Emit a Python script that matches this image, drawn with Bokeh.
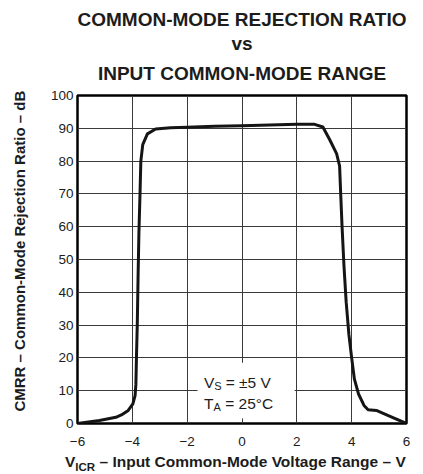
from bokeh.plotting import figure
from bokeh.models import Label, BoxAnnotation, FixedTicker, Range1d, Title, Div
from bokeh.layouts import column
from bokeh.embed import file_html
from bokeh.resources import INLINE

# ---- data ----
vicr = [-6.0, -5.2, -4.6, -4.4, -4.15, -3.98, -3.9, -3.87, -3.85, -3.82, -3.79,
        -3.76, -3.72, -3.69, -3.62, -3.45, -3.15, -2.6, -2.0, -1.0, 0.0, 1.0,
        2.0, 2.65, 2.95, 3.2, 3.45, 3.56, 3.6, 3.65, 3.72, 3.8, 3.9, 4.0, 4.1,
        4.25, 4.45, 4.6, 4.9, 5.4, 6.0]
cmrr = [0.0, 0.9, 1.9, 2.6, 4.0, 6.0, 8.5, 12.0, 20.0, 30.0, 45.0,
        58.0, 70.0, 80.0, 85.0, 88.3, 89.8, 90.2, 90.3, 90.6, 90.8, 91.0,
        91.2, 91.2, 90.4, 86.5, 82.3, 78.5, 70.0, 60.0, 48.0, 37.0, 27.0, 20.0, 13.5,
        9.0, 5.5, 4.2, 4.0, 2.2, 0.0]

x_ticks = [-6, -4, -2, 0, 2, 4, 6]
x_tick_labels = ["\u22126", "\u22124", "\u22122", "0", "2", "4", "6"]
y_ticks = [0, 10, 20, 30, 40, 50, 60, 70, 80, 90, 100]

title_lines = ["COMMON-MODE REJECTION RATIO", "vs", "INPUT COMMON-MODE RANGE"]
y_label = "CMRR \u2013 Common-Mode Rejection Ratio \u2013 dB"
x_label_main = "V"
x_label_sub = "ICR"
x_label_rest = " \u2013 Input Common-Mode Voltage Range \u2013 V"

FONT = "Liberation Sans"
TXT = "#1c1c1c"

p = figure(width=421, height=453, x_range=Range1d(-6, 6), y_range=Range1d(0, 100),
           output_backend="svg", toolbar_location=None, title=None,
           min_border_left=77, min_border_right=15, min_border_top=95, min_border_bottom=30)

p.outline_line_color = "black"
p.outline_line_width = 2.5
p.background_fill_color = "white"
p.border_fill_color = "white"

p.xaxis.ticker = FixedTicker(ticks=x_ticks)
p.xaxis.major_label_overrides = {t: s for t, s in zip(x_ticks, x_tick_labels)}
p.yaxis.ticker = FixedTicker(ticks=y_ticks)

for ax in (p.xaxis, p.yaxis):
    ax.axis_line_color = None
    ax.major_tick_line_color = None
    ax.minor_tick_line_color = None
    ax.major_tick_out = 0
    ax.major_tick_in = 0
    ax.major_label_text_font = FONT
    ax.major_label_text_font_size = "13.5px"
    ax.major_label_text_color = TXT
p.xaxis.major_label_standoff = 13
p.yaxis.major_label_standoff = 4

p.yaxis.axis_label = "\u00a0\u00a0\u00a0\u00a0" + y_label
p.yaxis.axis_label_text_font = FONT
p.yaxis.axis_label_text_font_style = "bold"
p.yaxis.axis_label_text_font_size = "15px"
p.yaxis.axis_label_text_color = TXT
p.yaxis.axis_label_standoff = 20

p.xgrid.ticker = FixedTicker(ticks=x_ticks)
p.ygrid.ticker = FixedTicker(ticks=y_ticks)
p.grid.grid_line_color = "#3a3a3a"
p.grid.grid_line_width = 1
p.grid.grid_line_alpha = 1

# small spacer between frame and titles
p.add_layout(Title(text="\u00a0", text_font=FONT, text_font_size="1px", standoff=2), "above")
# titles (nearest to the frame first)
for txt, so in zip(reversed(title_lines), [13, 2, 0]):
    p.add_layout(Title(text=txt, align="center", text_font=FONT, text_font_style="bold",
                       text_font_size="19px", text_color=TXT, standoff=so), "above")

# white box behind the condition text
p.add_layout(BoxAnnotation(left=-1.62, right=1.92, bottom=1.5, top=18.5,
                           fill_color="white", fill_alpha=1, line_color=None))

p.line(vicr, cmrr, line_width=3, line_color="#151515", line_join="round")

# condition text
cond = [
    ("V", 12.6, 0, "15.5px"), ("S", 12.6, 10.3, "11px"), ("\u00a0= \u00b15 V", 12.6, 17.5, "15.5px"),
    ("T", 6.2, 0, "15.5px"), ("A", 6.2, 9.5, "11px"), ("\u00a0= 25\u00b0C", 6.2, 17.0, "15.5px"),
]
for txt, y, dx, fs in cond:
    dy = -4 if fs == "11px" else 0
    p.add_layout(Label(x=-1.39, y=y, x_offset=dx, y_offset=dy, text=txt, text_align="left",
                       text_baseline="alphabetic", text_font=FONT, text_font_size=fs,
                       text_color=TXT))

xdiv = Div(text=(f'<div style="font-family:\'{FONT}\';font-weight:bold;font-size:15.5px;'
                 f'line-height:17px;color:{TXT};margin-left:65px;white-space:nowrap">'
                 f'{x_label_main}<span style="font-size:11.5px;position:relative;top:4px">'
                 f'{x_label_sub}</span>{x_label_rest}</div>'),
           width=421, height=17, margin=0)

layout = column(p, xdiv, spacing=0)
open("out.html", "w").write(file_html(layout, INLINE))
